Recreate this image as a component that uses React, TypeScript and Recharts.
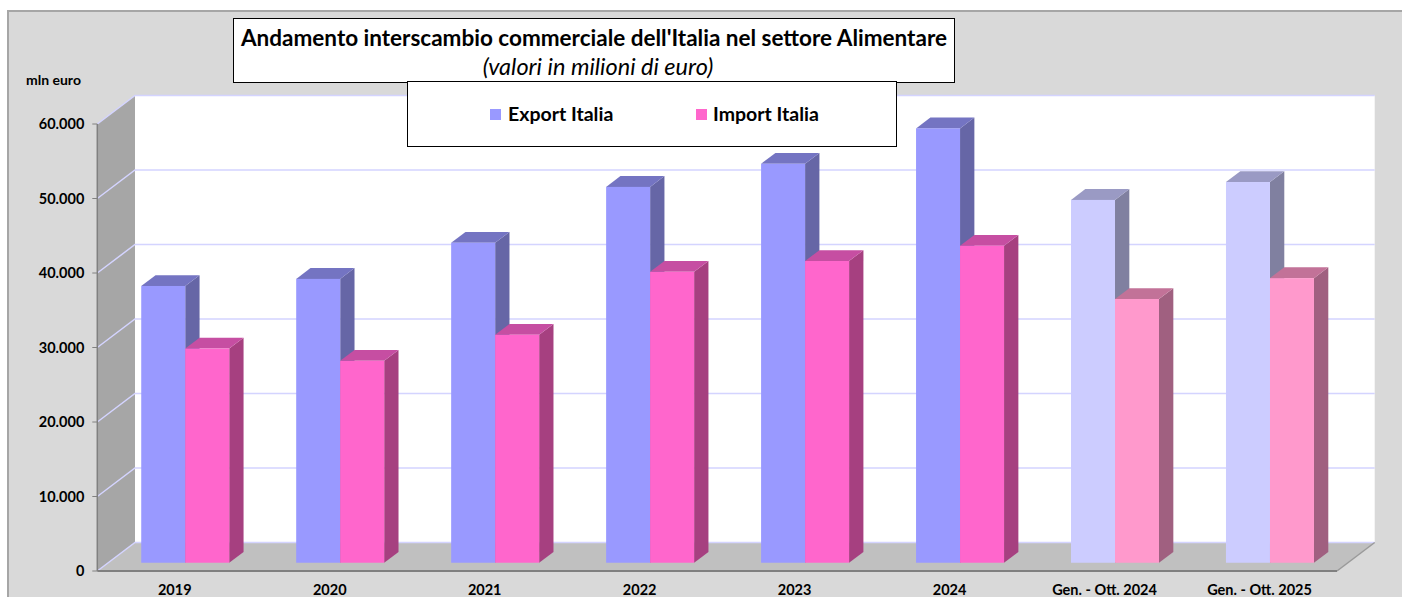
import React from 'react';
import { BarChart, Bar, XAxis, YAxis, ReferenceArea } from 'recharts';

const categories = ['2019', '2020', '2021', '2022', '2023', '2024', 'Gen. - Ott. 2024', 'Gen. - Ott. 2025'];
const exportValues = [37150, 38100, 42950, 50450, 53550, 58300, 48700, 51100];
const importValues = [28750, 27100, 30600, 39050, 40500, 42550, 35400, 38200];
const partialPeriod = [false, false, false, false, false, false, true, true];
const yTicks = [0, 10000, 20000, 30000, 40000, 50000, 60000];

const data = categories.map((label, i) => ({
  label,
  exp: exportValues[i],
  imp: importValues[i],
  partial: partialPeriod[i],
}));

// depth of the 3D box (front plane -> back wall)
const DX = 37.7;
const DY = -28.5;
// bars stand between 29% and 67% of the depth
const B0 = 0.29;
const B1 = 0.67;

const FONT = 'Lato, Carlito, Calibri, "Noto Sans", sans-serif';

const palettes = {
  exp: {
    full: { front: '#9999ff', side: '#6666a6', top: '#7474c2' },
    partial: { front: '#ccccff', side: '#8080a0', top: '#9a9ac4' },
  },
  imp: {
    full: { front: '#ff66cc', side: '#a64080', top: '#c64ea2' },
    partial: { front: '#ff99cc', side: '#a06080', top: '#c27298' },
  },
};

const fmt = (v: number) => String(v).replace(/\B(?=(\d{3})+(?!\d))/g, '.');

const Bar3D = (props: any) => {
  const { x, y, width, height, payload, series } = props;
  const pal = palettes[series as 'exp' | 'imp'][payload.partial ? 'partial' : 'full'];
  const fx = x + DX * B0;
  const fy = y + DY * B0;
  const dx = DX * (B1 - B0);
  const dy = DY * (B1 - B0);
  const r = fx + width;
  const b = fy + height;
  return (
    <g>
      <polygon points={`${r},${fy} ${r + dx},${fy + dy} ${r + dx},${b + dy} ${r},${b}`} fill={pal.side} />
      <polygon points={`${fx},${fy} ${fx + dx},${fy + dy} ${r + dx},${fy + dy} ${r},${fy}`} fill={pal.top} />
      <rect x={fx} y={fy} width={width} height={height} fill={pal.front} />
    </g>
  );
};

const Walls = (props: any) => {
  const { x, y, width, height } = props;
  const max = yTicks[yTicks.length - 1];
  const bottom = y + height;
  return (
    <g>
      <rect x={x + DX} y={y + DY} width={width} height={height} fill="#ffffff" />
      <polygon
        points={`${x},${y} ${x + DX},${y + DY} ${x + DX},${bottom + DY} ${x},${bottom}`}
        fill="#a6a6a6"
      />
      <polygon
        points={`${x},${bottom} ${x + DX},${bottom + DY} ${x + width + DX},${bottom + DY} ${x + width},${bottom}`}
        fill="#c0c0c0"
      />
      {yTicks.map((v) => {
        const yy = y + height * (1 - v / max);
        return (
          <polyline
            key={v}
            points={`${x},${yy} ${x + DX},${yy + DY} ${x + width + DX},${yy + DY}`}
            fill="none"
            stroke="#d4d4ff"
            strokeWidth={1.5}
          />
        );
      })}
      <line x1={x + width} y1={bottom} x2={x + width + DX} y2={bottom + DY} stroke="#9a9a9a" strokeWidth={1.5} />
    </g>
  );
};

const App = () => {
  return (
    <div style={{ position: 'relative', width: 1402, height: 597, overflow: 'hidden', fontFamily: FONT }}>
      <style>{`body{margin:0}`}</style>
      <div
        style={{
          position: 'absolute',
          left: 7,
          top: 10,
          width: 1402,
          height: 600,
          background: '#d9d9d9',
          borderTop: '2px solid #a6a6a6',
          borderLeft: '2px solid #a6a6a6',
        }}
      />
      <div style={{ position: 'absolute', left: 0, top: 0 }}>
        <BarChart
          width={1402}
          height={597}
          data={data}
          margin={{ top: 124, right: 65, bottom: 0, left: 0 }}
          barSize={44}
          barGap={0}
        >
          <ReferenceArea y1={0} y2={60000} shape={<Walls />} />
          <XAxis
            dataKey="label"
            height={26}
            axisLine={{ stroke: '#808080', strokeWidth: 2 }}
            tickLine={false}
            tickSize={0}
            tickMargin={14}
            interval={0}
            tick={{ fontSize: 14.5, fontWeight: 700, fill: '#000', fontFamily: FONT }}
          />
          <YAxis
            width={97.3}
            domain={[0, 60000]}
            ticks={yTicks}
            tickFormatter={fmt}
            axisLine={{ stroke: '#808080', strokeWidth: 1.5 }}
            tickLine={{ stroke: '#808080' }}
            tickSize={5}
            tickMargin={8}
            tick={{ fontSize: 14.5, fontWeight: 700, fill: '#000', fontFamily: FONT }}
          />
          <Bar
            dataKey="exp"
            name="Export Italia"
            isAnimationActive={false}
            shape={(p: any) => <Bar3D {...p} series="exp" />}
          />
          <Bar
            dataKey="imp"
            name="Import Italia"
            isAnimationActive={false}
            shape={(p: any) => <Bar3D {...p} series="imp" />}
          />
        </BarChart>
      </div>
      <div
        style={{
          position: 'absolute',
          left: 26,
          top: 71,
          fontSize: 14,
          fontWeight: 700,
          color: '#000',
        }}
      >
        mln euro
      </div>
      <div
        style={{
          position: 'absolute',
          left: 233,
          top: 18,
          width: 720,
          height: 63,
          background: '#fff',
          border: '1px solid #000',
          textAlign: 'center',
          color: '#000',
        }}
      >
        <div style={{ fontSize: 22.5, fontWeight: 700, marginTop: 5, lineHeight: '28px' }}>
          Andamento interscambio commerciale dell'Italia nel settore Alimentare
        </div>
        <div style={{ fontSize: 23.5, fontStyle: 'italic', lineHeight: '28px', paddingLeft: 8 }}>
          (valori in milioni di euro)
        </div>
      </div>
      <div
        style={{
          position: 'absolute',
          left: 407,
          top: 81,
          width: 488,
          height: 64,
          background: '#fff',
          border: '1px solid #000',
          color: '#000',
          fontSize: 19.5,
          fontWeight: 700,
        }}
      >
        <div style={{ position: 'absolute', left: 82, top: 27, width: 11, height: 11, background: '#9999ff' }} />
        <div style={{ position: 'absolute', left: 100, top: 19, lineHeight: '26px' }}>Export Italia</div>
        <div style={{ position: 'absolute', left: 288, top: 27, width: 11, height: 11, background: '#ff66cc' }} />
        <div style={{ position: 'absolute', left: 305, top: 19, lineHeight: '26px' }}>Import Italia</div>
      </div>
    </div>
  );
};

export default App;
